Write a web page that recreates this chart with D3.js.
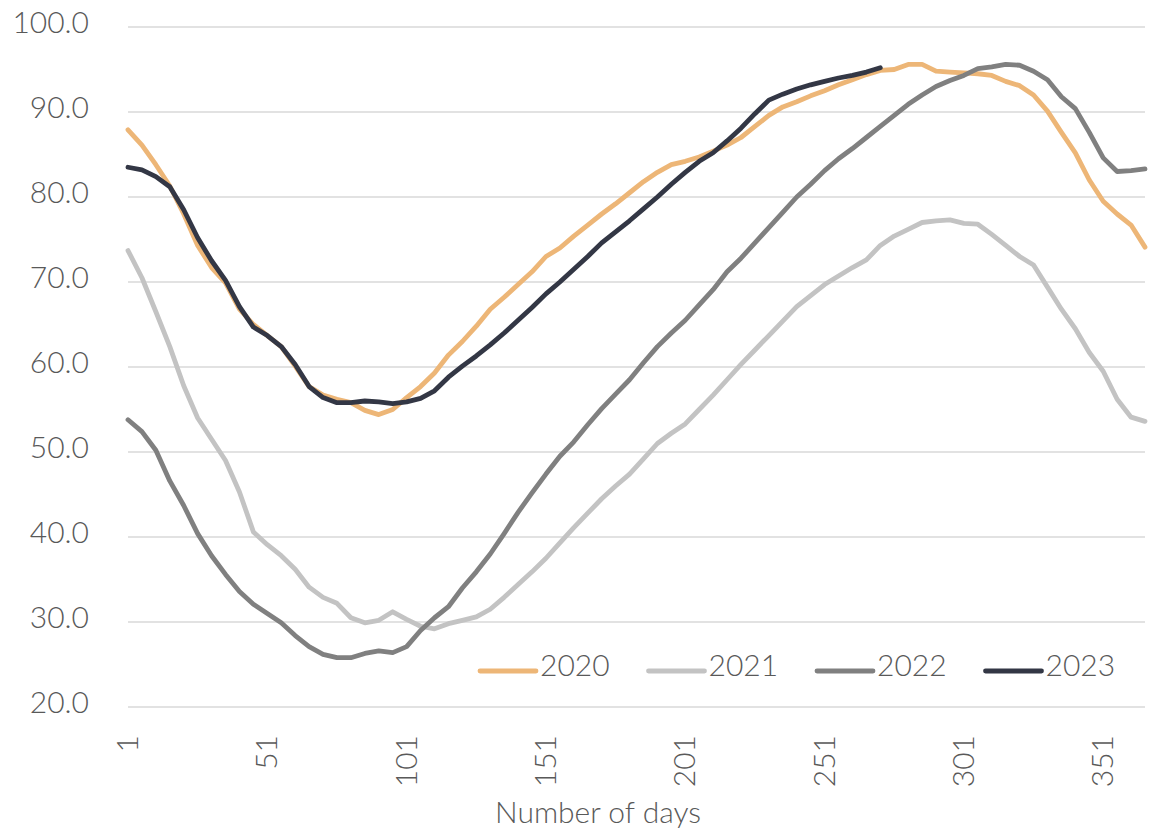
<!DOCTYPE html>
<html lang="en">

<head>
    <meta charset="UTF-8">
    <title>Number of days</title>
    <style>
        body {
            padding: 0;
            margin: 0;
            background: #fff;
        }

        text {
            font-family: Lato, "Open Sans", "Liberation Sans", sans-serif;
            font-weight: 300;
            fill: #595959;
        }
    </style>
</head>

<body>
    <script src="https://d3js.org/d3.v7.min.js"></script>
    <script>
        // days (every 5th day of the year)
        const days = d3.range(1, 367, 5).concat([366])

        const s2020 = [87.9, 86.1, 83.8, 81.3, 78.0, 74.3, 71.7, 69.9, 66.8, 65.0,
            63.7, 62.4, 60.1, 57.7, 56.7, 56.2, 55.8, 54.9, 54.4, 55.0,
            56.4, 57.7, 59.3, 61.4, 63.0, 64.8, 66.8, 68.2, 69.7, 71.2,
            73.0, 74.0, 75.4, 76.7, 78.0, 79.2, 80.5, 81.8, 82.9, 83.8,
            84.2, 84.7, 85.4, 86.1, 87.0, 88.3, 89.6, 90.6, 91.2, 91.9,
            92.5, 93.2, 93.8, 94.4, 94.9, 95.0, 95.6, 95.6, 94.8, 94.7,
            94.6, 94.5, 94.3, 93.6, 93.1, 92.0, 90.1, 87.6, 85.2, 82.0,
            79.5, 78.0, 76.7, 74.1]

        const s2021 = [73.7, 70.5, 66.5, 62.4, 57.8, 54.0, 51.5, 49.0, 45.3, 40.6,
            39.1, 37.8, 36.2, 34.1, 32.9, 32.2, 30.5, 29.9, 30.2, 31.2,
            30.3, 29.5, 29.2, 29.8, 30.2, 30.6, 31.5, 32.9, 34.4, 35.9,
            37.5, 39.3, 41.1, 42.8, 44.5, 46.0, 47.4, 49.2, 51.0, 52.2,
            53.3, 55.0, 56.7, 58.5, 60.3, 62.0, 63.7, 65.4, 67.1, 68.4,
            69.7, 70.7, 71.7, 72.6, 74.3, 75.4, 76.2, 77.0, 77.2, 77.3,
            76.9, 76.8, 75.6, 74.3, 73.0, 72.0, 69.4, 66.8, 64.5, 61.7,
            59.5, 56.2, 54.1, 53.6]

        const s2022 = [53.8, 52.4, 50.2, 46.6, 43.7, 40.4, 37.8, 35.6, 33.6, 32.1,
            31.0, 29.9, 28.4, 27.1, 26.2, 25.8, 25.8, 26.3, 26.6, 26.4,
            27.1, 29.0, 30.5, 31.8, 34.0, 35.9, 38.0, 40.4, 42.9, 45.2,
            47.4, 49.5, 51.2, 53.2, 55.1, 56.8, 58.5, 60.5, 62.4, 64.0,
            65.5, 67.3, 69.1, 71.2, 72.8, 74.6, 76.4, 78.2, 80.0, 81.5,
            83.1, 84.5, 85.7, 87.0, 88.3, 89.6, 90.9, 92.0, 93.0, 93.7,
            94.3, 95.1, 95.3, 95.6, 95.5, 94.8, 93.8, 91.8, 90.4, 87.6,
            84.6, 83.0, 83.1, 83.3]

        // 2023 only runs to day 271
        const s2023 = [83.5, 83.2, 82.4, 81.2, 78.5, 75.2, 72.5, 70.2, 67.1, 64.7,
            63.7, 62.4, 60.3, 57.7, 56.4, 55.8, 55.8, 56.0, 55.9, 55.7,
            55.9, 56.3, 57.2, 58.8, 60.1, 61.3, 62.6, 64.0, 65.5, 67.0,
            68.6, 70.0, 71.5, 73.0, 74.6, 75.9, 77.2, 78.6, 80.0, 81.5,
            82.9, 84.2, 85.2, 86.6, 88.1, 89.8, 91.4, 92.1, 92.7, 93.2,
            93.6, 94.0, 94.3, 94.7, 95.2]

        const seriesNames = ['2020', '2021', '2022', '2023']
        const seriesValues = [s2020, s2021, s2022, s2023]
        const colors = ['#EDB677', '#C3C3C3', '#808080', '#333745']

        const yTicks = d3.range(20, 101, 10)
        const xTicks = d3.range(1, 367, 50)

        const W = 1160, H = 837
        const margin = { left: 128, right: 15, top: 27, bottom: 130 }

        const svg = d3.select('body')
            .append('svg')
            .attr('width', W)
            .attr('height', H)

        const x = d3.scaleLinear().domain([1, 366]).range([margin.left, W - margin.right])
        const y = d3.scaleLinear().domain([20, 100]).range([H - margin.bottom, margin.top])

        // gridlines
        svg.append('g')
            .selectAll('line')
            .data(yTicks)
            .join('line')
            .attr('x1', x(1))
            .attr('x2', x(366))
            .attr('y1', d => y(d))
            .attr('y2', d => y(d))
            .attr('stroke', '#D9D9D9')
            .attr('stroke-width', 1.5)

        // y labels
        svg.append('g')
            .selectAll('text')
            .data(yTicks)
            .join('text')
            .attr('x', 89)
            .attr('y', d => y(d) + 6)
            .attr('text-anchor', 'end')
            .attr('font-size', 30)
            .text(d => d.toFixed(1))

        // x labels, rotated
        svg.append('g')
            .selectAll('text')
            .data(xTicks)
            .join('text')
            .attr('transform', d => `translate(${x(d) + 10},735) rotate(-90)`)
            .attr('text-anchor', 'end')
            .attr('font-size', 30)
            .text(d => d)

        svg.append('text')
            .attr('x', 598)
            .attr('y', 823)
            .attr('text-anchor', 'middle')
            .attr('font-size', 30)
            .text('Number of days')

        // lines
        const line = d3.line()
            .x((d, i) => x(days[i]))
            .y(d => y(d))

        svg.append('g')
            .selectAll('path')
            .data(seriesValues)
            .join('path')
            .attr('fill', 'none')
            .attr('stroke', (d, i) => colors[i])
            .attr('stroke-width', 4.8)
            .attr('stroke-linejoin', 'round')
            .attr('stroke-linecap', 'round')
            .attr('d', line)

        // legend
        const legend = svg.append('g')
            .selectAll('g')
            .data(seriesNames)
            .join('g')
            .attr('transform', (d, i) => `translate(${480 + i * 168.5},671)`)

        legend.append('line')
            .attr('x1', 0)
            .attr('x2', 56)
            .attr('stroke', (d, i) => colors[i])
            .attr('stroke-width', 4.8)
            .attr('stroke-linecap', 'round')

        legend.append('text')
            .attr('x', 60)
            .attr('y', 5)
            .attr('font-size', 30)
            .text(d => d)
    </script>
</body>

</html>
